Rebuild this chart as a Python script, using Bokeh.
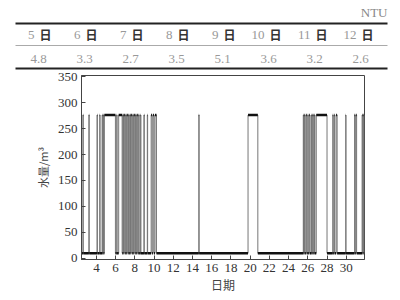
from bokeh.plotting import figure
from bokeh.layouts import column
from bokeh.models import Range1d, FixedTicker
from bokeh.embed import file_html
from bokeh.resources import INLINE
from bokeh.core.properties import value

# ---- data ----
table_days = ["5", "6", "7", "8", "9", "10", "11", "12"]
table_ntu = ["4.8", "3.3", "2.7", "3.5", "5.1", "3.6", "3.2", "2.6"]
table_unit = "NTU"

low_level = 10
high_level = 276
t_first = 2.45
t_last = 31.9

high_start = [2.60, 3.22, 4.07, 4.35, 4.60, 4.72, 4.83, 6.12, 6.32,
              6.75, 6.90, 7.05, 7.20, 7.35, 7.48, 7.62, 7.78, 7.92, 8.08, 8.22, 8.40,
              8.60, 8.95, 9.30, 9.70, 9.90, 10.10,
              14.66, 19.78,
              25.53, 25.65, 25.80, 26.00, 26.15, 26.35, 26.50, 26.70, 26.88,
              28.60, 28.75, 28.95, 29.95, 30.87, 31.00, 31.65, 31.80]
high_end = [2.63, 3.25, 4.10, 4.38, 4.63, 4.75, 5.98, 6.15, 6.68,
            6.82, 6.98, 7.12, 7.28, 7.40, 7.55, 7.70, 7.85, 8.00, 8.15, 8.30, 8.45,
            8.63, 8.98, 9.33, 9.80, 10.00, 10.25,
            14.69, 20.80,
            25.56, 25.70, 25.88, 26.04, 26.22, 26.38, 26.58, 26.74, 28.00,
            28.64, 28.80, 29.05, 29.97, 30.92, 31.08, 31.70, 31.86]

x_ticks = [4, 6, 8, 10, 12, 14, 16, 18, 20, 22, 24, 26, 28, 30]
y_ticks = [0, 50, 100, 150, 200, 250, 300, 350]
x_label = "日期"
y_label = "水量/m³"

# ---- table (top) ----
top = figure(width=400, height=70, x_range=Range1d(0, 400), y_range=Range1d(70, 0),
             toolbar_location=None, output_backend="svg",
             x_axis_type=None, y_axis_type=None, min_border=0)
top.frame_align = False
top.outline_line_color = None

col_x = [38 + 46 * i for i in range(len(table_days))]
top.segment(x0=[15, 15, 15], y0=[23, 45, 68], x1=[387, 387, 387], y1=[23, 45, 68],
            line_color=["#222", "#aaa", "#222"], line_width=[2, 1, 2])
top.text(x=[c - 4 for c in col_x], y=[34] * len(col_x), text=table_days,
         text_font=value("Liberation Serif"), text_font_size=value("13px"),
         text_align="right", text_baseline="middle", text_color="#999")
top.text(x=[c + 1 for c in col_x], y=[34] * len(col_x), text=["日"] * len(col_x),
         text_font=value("Noto Sans CJK SC"), text_font_size=value("12px"),
         text_font_style="bold", text_align="left", text_baseline="middle",
         text_color="#333")
top.text(x=col_x, y=[58] * len(col_x), text=table_ntu,
         text_font=value("Liberation Serif"), text_font_size=value("13px"),
         text_align="center", text_baseline="middle", text_color="#999")
top.text(x=[387], y=[12], text=[table_unit],
         text_font=value("Liberation Serif"), text_font_size=value("13px"),
         text_align="right", text_baseline="middle", text_color="#888")

# ---- chart (bottom) ----
xs = [t_first]
ys = [low_level]
for s, e in zip(high_start, high_end):
    xs += [s, s, e, e]
    ys += [low_level, high_level, high_level, low_level]
xs.append(t_last)
ys.append(low_level)

low_x0 = [t_first] + high_end
low_x1 = high_start + [t_last]

p = figure(width=400, height=230, x_range=Range1d(t_first, t_last), y_range=Range1d(-2, 352),
           toolbar_location=None, output_backend="svg",
           min_border_left=81, min_border_right=36, min_border_top=5, min_border_bottom=41)
p.frame_align = False
p.xgrid.visible = False
p.ygrid.visible = False
p.outline_line_color = "#444"
p.outline_line_width = 1

p.line(xs, ys, line_color="#777", line_width=1)
p.segment(x0=high_start, y0=[high_level] * len(high_start), x1=high_end,
          y1=[high_level] * len(high_end), line_color="#111", line_width=2.5)
p.segment(x0=low_x0, y0=[low_level] * len(low_x0), x1=low_x1,
          y1=[low_level] * len(low_x1), line_color="#111", line_width=2.5)

for ax in (p.xaxis[0], p.yaxis[0]):
    ax.major_label_text_font = "Liberation Serif"
    ax.major_label_text_font_size = "13px"
    ax.major_label_text_color = "#333"
    ax.axis_line_color = "#444"
    ax.major_tick_line_color = "#444"
    ax.major_tick_in = 4
    ax.major_tick_out = 0
    ax.minor_tick_line_color = None
    ax.axis_label_text_font = "Noto Sans CJK SC"
    ax.axis_label_text_font_style = "normal"
    ax.axis_label_text_color = "#444"

p.xaxis.ticker = FixedTicker(ticks=x_ticks)
p.yaxis.ticker = FixedTicker(ticks=y_ticks)
p.xaxis.major_label_standoff = 4
p.yaxis.major_label_standoff = 4
p.xaxis.axis_label = x_label
p.yaxis.axis_label = y_label
p.xaxis.axis_label_text_font_size = "12px"
p.yaxis.axis_label_text_font_size = "11px"
p.xaxis.axis_label_standoff = 1
p.yaxis.axis_label_standoff = 4

layout = column(top, p, spacing=0)
open("out.html", "w").write(file_html(layout, INLINE))
